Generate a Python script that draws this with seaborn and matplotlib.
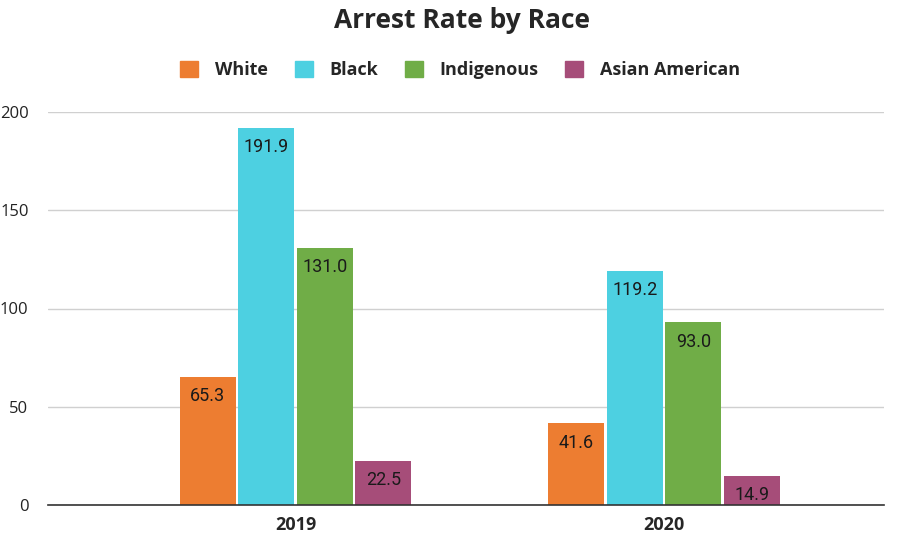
import matplotlib
matplotlib.use("Agg")
import matplotlib.pyplot as plt
import seaborn as sns
import pandas as pd

years = ["2019", "2020"]
races = ["White", "Black", "Indigenous", "Asian American"]
white = [65.3, 41.6]
black = [191.9, 119.2]
indigenous = [131.0, 93.0]
asian = [22.5, 14.9]
colors = ["#ED7D31", "#4DD0E1", "#70AD47", "#A64D79"]

rows = []
for race, vals in zip(races, [white, black, indigenous, asian]):
    for y, v in zip(years, vals):
        rows.append({"Year": y, "Race": race, "Rate": v})
df = pd.DataFrame(rows)

sns.set_theme(style="white")
plt.rcParams['font.family'] = ['Open Sans', 'DejaVu Sans']

fig = plt.figure(figsize=(9.02, 5.4), dpi=100)
ax = fig.add_axes([48/902, 1-505/540, (884-48)/902, (505-112)/540])

sns.barplot(data=df, x="Year", y="Rate", hue="Race", hue_order=races,
            order=years, palette=colors, width=0.635, gap=0.04,
            saturation=1, edgecolor="none", ax=ax, legend=False)

for cont in ax.containers:
    for p in cont:
        h = p.get_height()
        ax.annotate(f"{h:.1f}", (p.get_x() + p.get_width()/2, h),
                    xytext=(0, -14), textcoords="offset points",
                    ha="center", va="center", fontsize=13,
                    family=["Roboto", "DejaVu Sans"], color="#1a1a1a")

ax.set_ylim(0, 200)
ax.set_xlim(-0.672, 1.597)
ax.set_yticks([0, 50, 100, 150, 200])
ax.yaxis.grid(True, color="#d0d0d0", linewidth=1)
ax.set_axisbelow(True)
for s in ["top", "right", "left"]:
    ax.spines[s].set_visible(False)
ax.spines["bottom"].set_color("#333333")
ax.spines["bottom"].set_linewidth(1.2)
ax.set_xlabel("")
ax.set_ylabel("")
ax.tick_params(axis="y", length=0, labelsize=12, pad=14, labelcolor="#222222")
ax.tick_params(axis="x", length=0, labelsize=13, pad=8)
for lbl in ax.get_xticklabels():
    lbl.set_fontweight("bold")

fig.suptitle("Arrest Rate by Race", fontsize=19, fontweight="bold",
             y=1-21/540, va="center", x=0.512)

handles = [plt.Rectangle((0, 0), 1, 1, color=c) for c in colors]
fig.legend(handles, races, loc="center", bbox_to_anchor=(0.51, 1-70/540),
           ncol=4, frameon=False, prop={"weight": "bold", "size": 13},
           handlelength=1.0, handleheight=1.0, columnspacing=1.5,
           handletextpad=0.9)

fig.savefig("out.png", dpi=100)
